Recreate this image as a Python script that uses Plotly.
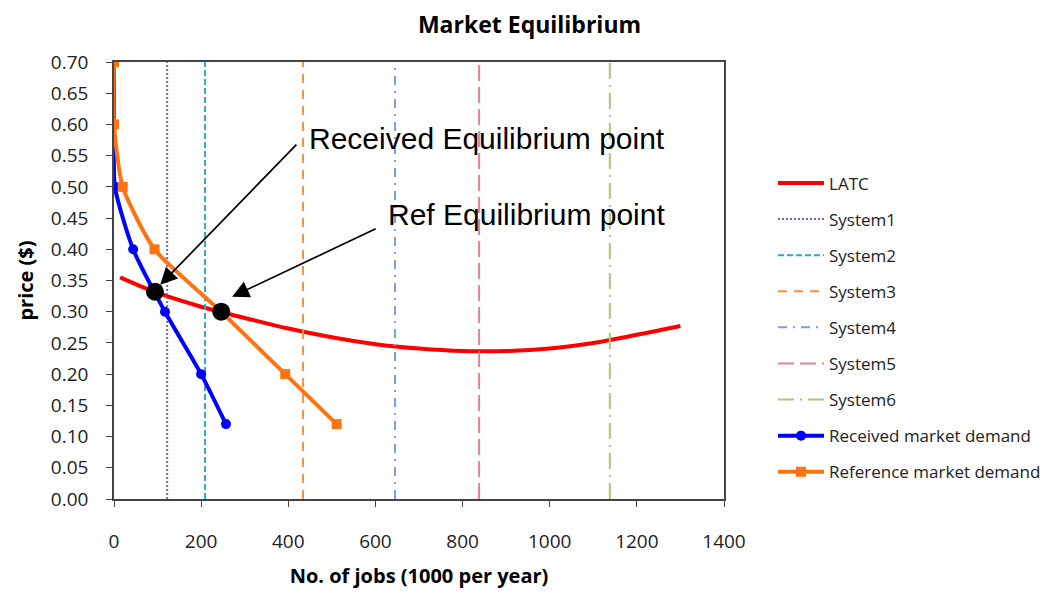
import plotly.graph_objects as go

# ---- data ----
latc_x = [14, 100, 200, 300, 400, 500, 600, 700, 800, 900, 1000, 1100, 1200, 1300]
latc_y = [0.355, 0.330, 0.308, 0.290, 0.273, 0.259, 0.248, 0.241, 0.237, 0.237, 0.241, 0.250, 0.263, 0.277]

system_names = ["System1", "System2", "System3", "System4", "System5", "System6"]
system_x = [122, 209, 434, 645, 838, 1138]

recv_x = [0, 0, 2, 44, 117, 200, 257]
recv_y = [0.70, 0.60, 0.50, 0.40, 0.30, 0.20, 0.12]

ref_x = [0, 0, 20, 93, 246, 393, 511]
ref_y = [0.70, 0.60, 0.50, 0.40, 0.30, 0.20, 0.12]

eq_labels = ["Received Equilibrium point", "Ref Equilibrium point"]
eq_x = [94, 246]
eq_y = [0.332, 0.300]

x_ticks = [0, 200, 400, 600, 800, 1000, 1200, 1400]
y_ticks = [0.00, 0.05, 0.10, 0.15, 0.20, 0.25, 0.30, 0.35, 0.40, 0.45, 0.50, 0.55, 0.60, 0.65, 0.70]

# ---- styles ----
sys_colors = ["#8064A2", "#2FA8C0", "#F0913F", "#7F9FD3", "#E0838A", "#A6C97F"]
sys_dash = ["2px,2px", "6px,3px", "9px,7px", "9px,6px,2px,6px", "16px,6px", "16px,6px,2px,6px"]

fig = go.Figure()

fig.add_trace(go.Scatter(x=latc_x, y=latc_y, mode="lines", name="LATC",
                         line=dict(color="#FF0000", width=4, shape="spline"),
                         legendgroup="g0"))

for i, (n, xv) in enumerate(zip(system_names, system_x)):
    fig.add_trace(go.Scatter(x=[xv, xv], y=[0, 0.70], mode="lines", name=n,
                             line=dict(color=sys_colors[i], width=2, dash=sys_dash[i]),
                             legendgroup=f"g{i+1}"))

fig.add_trace(go.Scatter(x=recv_x, y=recv_y, mode="lines+markers", name="Received market demand",
                         line=dict(color="#0000FF", width=4, shape="spline", smoothing=0.6),
                         marker=dict(symbol="circle", size=10, color="#0000FF"),
                         legendgroup="g7"))

fig.add_trace(go.Scatter(x=ref_x, y=ref_y, mode="lines+markers", name="Reference market demand",
                         line=dict(color="#FF7410", width=4, shape="spline", smoothing=0.6),
                         marker=dict(symbol="square", size=10, color="#FF7410"),
                         legendgroup="g8"))

fig.add_trace(go.Scatter(x=eq_x, y=eq_y, mode="markers", showlegend=False,
                         marker=dict(symbol="circle", size=18, color="#000000")))

# annotations: arrows and texts
arrow_heads = [(106, 0.343), (271, 0.324)]
arrow_tails = [(422, 0.570), (604, 0.434)]
text_pos = [(443, 0.578), (624, 0.455)]
for lab, (hx, hy), (tx, ty), (px, py) in zip(eq_labels, arrow_heads, arrow_tails, text_pos):
    fig.add_annotation(x=hx, y=hy, ax=tx, ay=ty, xref="x", yref="y", axref="x", ayref="y",
                       text="", showarrow=True, arrowhead=2, arrowsize=2.0, arrowwidth=1.7,
                       arrowcolor="#000000")
    fig.add_annotation(x=px, y=py, xref="x", yref="y", text=lab, showarrow=False,
                       xanchor="left", yanchor="middle",
                       font=dict(family="Liberation Sans, Arial", size=30, color="#000000"))

fig.update_layout(
    width=1060, height=594,
    paper_bgcolor="white", plot_bgcolor="white",
    margin=dict(l=106, r=344, t=54, b=103),
    title=dict(text="<b>Market Equilibrium</b>", x=0.492, xanchor="center", y=0.972, yanchor="middle",
               font=dict(family="Open Sans", size=23, color="#000000")),
    font=dict(family="Open Sans", color="#1a1a1a"),
    legend=dict(xref="container", yref="container", x=0.7217, y=0.735,
                xanchor="left", yanchor="top", maxheight=420,
                font=dict(family="Open Sans", size=17, color="#222222"),
                itemwidth=46,
                tracegroupgap=11, bgcolor="rgba(0,0,0,0)"),
    showlegend=True,
)

fig.update_xaxes(range=[0, 1400], tickvals=x_ticks, ticktext=[str(v) for v in x_ticks],
                 showgrid=False, zeroline=False, showline=True, linecolor="#444444", linewidth=1.5,
                 mirror=True, ticks="outside", ticklen=6, tickcolor="#444444",
                 ticklabelstandoff=18,
                 tickfont=dict(family="Open Sans", size=19, color="#222222"),
                 title=dict(text="<b>No. of jobs (1000 per year)</b>", standoff=16,
                            font=dict(family="Open Sans", size=20, color="#000000")))
fig.update_yaxes(range=[0, 0.70], tickvals=y_ticks, ticktext=[f"{v:.2f}" for v in y_ticks],
                 showgrid=False, zeroline=False, showline=True, linecolor="#444444", linewidth=1.5,
                 mirror=True, ticks="outside", ticklen=6, tickcolor="#444444",
                 ticklabelstandoff=14,
                 tickfont=dict(family="Open Sans", size=19, color="#222222"),
                 title=dict(text="<b>price ($)</b>", standoff=12,
                            font=dict(family="Open Sans", size=20, color="#000000")))

fig.write_html("out.html")
